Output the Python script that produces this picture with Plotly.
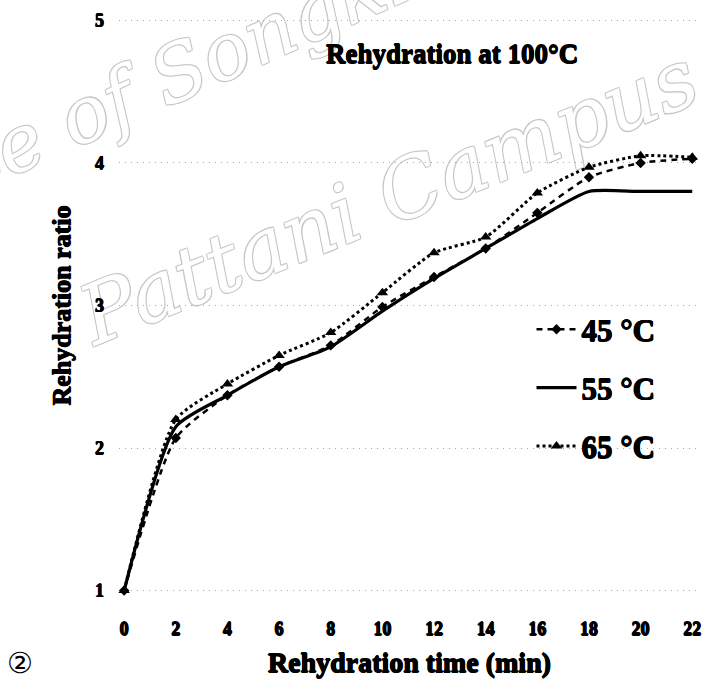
import plotly.graph_objects as go

# Rehydration time (min)
time_min = [0, 2, 4, 6, 8, 10, 12, 14, 16, 18, 20, 22]

# Rehydration ratio for samples dried at each temperature
ratio_45 = [1.0, 2.07, 2.37, 2.57, 2.72, 2.99, 3.20, 3.40, 3.65, 3.90, 4.00, 4.03]
ratio_55 = [1.0, 2.15, 2.37, 2.57, 2.71, 2.96, 3.19, 3.40, 3.61, 3.80, 3.80, 3.80]
ratio_65 = [1.0, 2.20, 2.45, 2.65, 2.81, 3.09, 3.37, 3.48, 3.79, 3.97, 4.05, 4.04]

x_ticks = [0, 2, 4, 6, 8, 10, 12, 14, 16, 18, 20, 22]
y_ticks = [1, 2, 3, 4, 5]

SERIF = "Liberation Serif"
# thin text-shadow ring to give the bold serif a heavier stroke
HEAVY = "0.6px 0 0 black, -0.6px 0 0 black, 0 0.6px 0 black, 0 -0.6px 0 black"


def bold_font(size):
    return dict(family=SERIF, size=size, color="black", weight="bold", shadow=HEAVY)


fig = go.Figure()

fig.add_trace(go.Scatter(
    x=time_min, y=ratio_45, name="45 °C", legendgroup="g45",
    mode="lines+markers",
    line=dict(color="black", width=2.5, dash="6px,5px", shape="spline", smoothing=0.6),
    marker=dict(symbol="diamond", size=8, color="black"),
    cliponaxis=False,
))
fig.add_trace(go.Scatter(
    x=time_min, y=ratio_55, name="55 °C", legendgroup="g55",
    mode="lines",
    line=dict(color="black", width=3.2, shape="spline", smoothing=0.6),
    cliponaxis=False,
))
fig.add_trace(go.Scatter(
    x=time_min, y=ratio_65, name="65 °C", legendgroup="g65",
    mode="lines+markers",
    line=dict(color="black", width=3, dash="dot", shape="spline", smoothing=0.6),
    marker=dict(symbol="triangle-up", size=10, color="black"),
    cliponaxis=False,
))

fig.update_layout(
    width=708, height=689,
    margin=dict(l=119, r=8, t=19, b=97),
    paper_bgcolor="white", plot_bgcolor="white",
    showlegend=True,
    legend=dict(
        x=0.71, y=0.505, xanchor="left", yanchor="top",
        bgcolor="rgba(0,0,0,0)", borderwidth=0,
        font=bold_font(31),
        tracegroupgap=15, itemwidth=40, traceorder="grouped",
    ),
    xaxis=dict(
        range=[-0.2, 22.3], tickvals=x_ticks,
        showgrid=False, zeroline=False, showline=False,
        ticks="", ticklabelstandoff=24,
        tickfont=bold_font(18),
        title=dict(text="Rehydration time (min)", standoff=14, font=bold_font(28)),
    ),
    yaxis=dict(
        range=[0.99, 5.01], tickvals=y_ticks,
        showgrid=True, gridcolor="#a8a8a8", griddash="1px,5px", gridwidth=1,
        zeroline=False, showline=False,
        ticks="", ticklabelstandoff=14,
        tickfont=bold_font(18),
        title=dict(text="Rehydration ratio", standoff=16, font=bold_font(26)),
    ),
)

# Faint outlined watermark behind the plot
outline = "1px 1px 0 #c8c8c8, -1px -1px 0 #c8c8c8, 1px -1px 0 #c8c8c8, -1px 1px 0 #c8c8c8"
fig.add_shape(
    type="rect", xref="paper", yref="paper", x0=-0.35, x1=1.05, y0=0.88, y1=1.18,
    line=dict(width=0), fillcolor="rgba(0,0,0,0)", layer="below",
    label=dict(text="Prince of Songkla University", textangle=-24,
               font=dict(family="DejaVu Serif", size=78, color="white",
                         style="italic", shadow=outline)),
)
fig.add_shape(
    type="rect", xref="paper", yref="paper", x0=-0.05, x1=0.97, y0=0.55, y1=0.85,
    line=dict(width=0), fillcolor="rgba(0,0,0,0)", layer="below",
    label=dict(text="Pattani Campus", textangle=-22,
               font=dict(family="DejaVu Serif", size=82, color="white",
                         style="italic", shadow=outline)),
)

# Chart title
fig.add_annotation(
    text="Rehydration at 100°C", xref="paper", yref="paper",
    x=0.573, y=0.939, xanchor="center", yanchor="middle", showarrow=False,
    font=bold_font(27),
)

# Panel marker
fig.add_annotation(
    text="②", xref="paper", yref="paper", x=-0.17, y=-0.124,
    xanchor="center", yanchor="middle", showarrow=False,
    font=dict(family="DejaVu Sans", size=29, color="black"),
)

fig.write_html("out.html")
